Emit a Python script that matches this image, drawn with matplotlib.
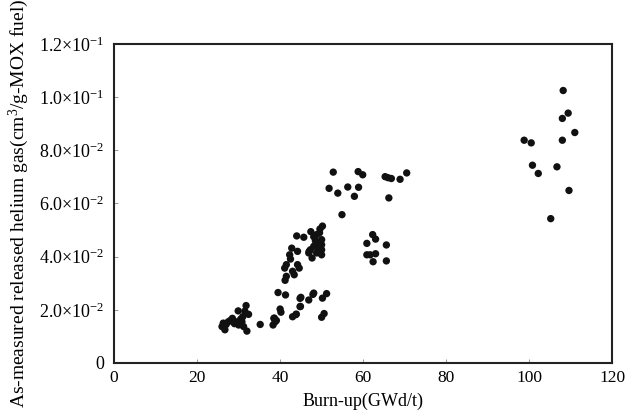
import matplotlib
matplotlib.use('Agg')
import matplotlib.pyplot as plt

plt.rcParams['font.family'] = 'Liberation Serif'
plt.rcParams['mathtext.fontset'] = 'custom'
plt.rcParams['mathtext.rm'] = 'Liberation Serif'
plt.rcParams['mathtext.it'] = 'Liberation Serif:italic'

# burn-up (GWd/t) and released helium (cm3/g-MOX)
burnup = [
    # low burn-up group
    31.8, 29.9, 32.4, 31.0, 28.5, 27.5, 26.3, 26.0, 26.7, 29.3, 30.0, 30.8,
    31.2, 32.0, 28.0, 29.0, 30.5, 27.0, 31.5, 35.2,
    # 38-51 lower band
    38.3, 38.8, 38.5, 40.2, 40.0, 39.5, 41.3, 43.0, 43.9, 44.8, 44.8, 46.9,
    47.9, 45.0, 48.1, 50.2, 51.2, 44.9, 43.8, 50.6, 50.0, 38.6, 39.1,
    # 40-51 upper band
    50.2, 49.6, 47.4, 44.0, 45.7, 48.1, 48.8, 50.0, 50.0, 50.0, 50.0,
    48.8, 48.1, 47.3, 46.9, 47.7, 48.8, 49.2, 49.5, 47.0, 48.5,
    42.8, 44.2, 42.3, 42.5, 41.5, 41.1, 44.2, 44.6, 43.4, 41.5, 41.2, 43.0,
    # 52-71 top group
    52.8, 58.8, 59.9, 51.8, 53.9, 56.3, 58.9, 57.9, 54.9, 65.3, 66.0, 66.8,
    68.9, 70.5, 66.2,
    # 60-66 middle group
    62.3, 63.0, 60.9, 65.6, 60.9, 61.7, 63.0, 62.4, 65.6,
    # high burn-up group
    108.2, 109.4, 108.0, 111.0, 98.8, 100.5, 108.0, 100.8, 102.2, 106.7,
    109.6, 105.2,
]
helium = [
    0.0216, 0.0196, 0.0183, 0.0174, 0.0168, 0.0155, 0.0150, 0.0137, 0.0125, 0.0155, 0.0143, 0.0155,
    0.0137, 0.0120, 0.0160, 0.0148, 0.0165, 0.0145, 0.0195, 0.0145,
    0.0143, 0.0155, 0.0168, 0.0191, 0.0203, 0.0265, 0.0256, 0.0174, 0.0184, 0.0212, 0.0243, 0.0237,
    0.0258, 0.0247, 0.0263, 0.0244, 0.0261, 0.0213, 0.0182, 0.0186, 0.0172, 0.0169, 0.0160,
    0.0515, 0.0504, 0.0494, 0.0478, 0.0473, 0.0475, 0.0483, 0.0464, 0.0445, 0.0426, 0.0407,
    0.0451, 0.0439, 0.0426, 0.0414, 0.0395, 0.0414, 0.0432, 0.0490, 0.0420, 0.0460,
    0.0432, 0.0420, 0.0407, 0.0391, 0.0370, 0.0357, 0.0370, 0.0357, 0.0332, 0.0326, 0.0311, 0.0345,
    0.0718, 0.0720, 0.0708, 0.0657, 0.0639, 0.0662, 0.0661, 0.0627, 0.0558, 0.0701, 0.0697, 0.0694,
    0.0691, 0.0715, 0.0621,
    0.0483, 0.0466, 0.0450, 0.0444, 0.0407, 0.0407, 0.0411, 0.0381, 0.0384,
    0.1025, 0.0940, 0.0920, 0.0867, 0.0838, 0.0828, 0.0838, 0.0744, 0.0713, 0.0738,
    0.0649, 0.0543,
]

xticks = [0, 20, 40, 60, 80, 100, 120]
yticks = [0, 0.02, 0.04, 0.06, 0.08, 0.10, 0.12]
ytick_labels = ['0', r'$2.0{\times}10^{-2}$', r'$4.0{\times}10^{-2}$', r'$6.0{\times}10^{-2}$',
                r'$8.0{\times}10^{-2}$', r'$1.0{\times}10^{-1}$', r'$1.2{\times}10^{-1}$']

fig = plt.figure(figsize=(6.41, 4.17), dpi=100)
ax = fig.add_axes([0.178, 0.1295, 0.777, 0.765])
ax.scatter(burnup, helium, s=28, color='#111111', edgecolors='none', zorder=3)

ax.set_xlim(0, 120)
ax.set_ylim(0, 0.12)
ax.set_xticks(xticks)
ax.set_yticks(yticks)
ax.set_yticklabels(ytick_labels)
ax.tick_params(direction='in', length=3, width=0.6, labelsize=12.5, pad=5, color='#888888')
ax.tick_params(axis='y', labelsize=13, pad=7)
for sp in ax.spines.values():
    sp.set_linewidth(1.5)
    sp.set_color('#222222')

ax.set_xlabel('Burn-up(GWd/t)', fontsize=13, labelpad=5)
ax.set_ylabel(r'As-measured released helium gas(cm$^3$/g-MOX fuel)', fontsize=14, labelpad=6)

fig.savefig('out.png', dpi=100)
